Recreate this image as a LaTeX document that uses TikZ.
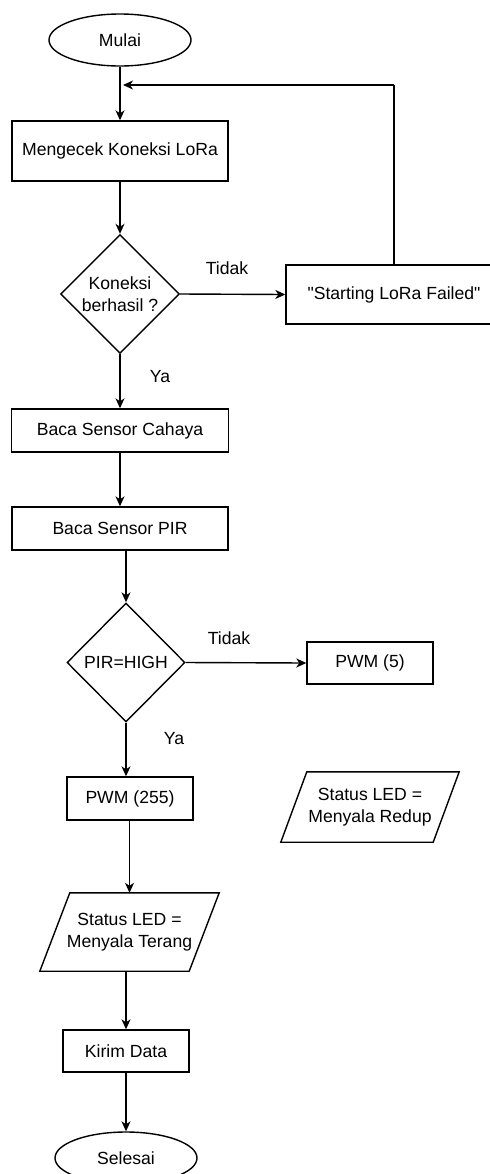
\documentclass[tikz,border=0pt]{standalone}
\usepackage{fontspec}
\setmainfont{Liberation Sans}
\usetikzlibrary{shapes.geometric,arrows.meta,calc}
\newcommand{\sq}{\XeTeXglyph\XeTeXcharglyph"22\relax}
\begin{document}
\begin{tikzpicture}[x=1bp,y=-1bp,
  every node/.style={font=\fontsize{17.6bp}{21.7bp}\selectfont, inner sep=0pt, align=center},
  ln/.style={line width=1.4bp, draw=black},
  arr/.style={ln, -{Stealth[length=10bp,width=9bp,inset=3bp]}},
  proc/.style={draw, line width=1.4bp, rectangle},
  term/.style={draw, line width=1.4bp, ellipse, minimum width=142bp, minimum height=52bp},
  dec/.style={draw, line width=1.4bp, diamond, minimum width=119bp, minimum height=119bp},
  io/.style={rectangle},
  lbl/.style={}
]
\path[fill=white,use as bounding box] (0,0) rectangle (490,1174);

\node[term] (start) at (120,40) {Mulai};
\node[proc, minimum width=216bp, minimum height=60bp] (check) at (120,151) {Mengecek Koneksi LoRa};
\node[dec] (dec1) at (120,294) {Koneksi\\berhasil ?};
\node[proc, minimum width=216bp, minimum height=59bp] (fail) at (394,294.5) {\sq Starting LoRa Failed\sq};
\node[proc, minimum width=217bp, minimum height=43bp] (cahaya) at (120,430.5) {Baca Sensor Cahaya};
\node[proc, minimum width=216bp, minimum height=43bp] (pir) at (120,528.5) {Baca Sensor PIR};
\node[dec, minimum width=118bp] (dec2) at (126,662.5) {PIR=HIGH};
\node[proc, minimum width=126bp, minimum height=42bp] (pwm5) at (370,663) {PWM (5)};
\node[proc, minimum width=126bp, minimum height=43bp] (pwm255) at (130,798.5) {PWM (255)};
\node[io, minimum width=152bp, minimum height=70bp] (redup) at (370,807) {Status LED =\\Menyala Redup};
\draw[ln] ($(redup.north west)+(13,0)$) -- ($(redup.north east)+(13,0)$) -- ($(redup.south east)+(-13,0)$) -- ($(redup.south west)+(-13,0)$) -- cycle;
\node[io, minimum width=149bp, minimum height=78bp] (terang) at (129.5,932) {Status LED =\\Menyala Terang};
\draw[ln] ($(terang.north west)+(15,0)$) -- ($(terang.north east)+(15,0)$) -- ($(terang.south east)+(-15,0)$) -- ($(terang.south west)+(-15,0)$) -- cycle;
\node[proc, minimum width=126bp, minimum height=42bp] (kirim) at (126,1051) {Kirim Data};
\node[term] (end) at (126,1158) {Selesai};

\coordinate (loopin) at (123,85);

\draw[arr] (start) -- (check);
\draw[arr] (check) -- (dec1);
\draw[arr] (dec1.east) -- (fail.west);
\draw[ln] (fail.north) -- (fail.north |- loopin);
\draw[arr] (fail.north |- loopin) -- (loopin);
\draw[arr] (dec1.south) -- (cahaya.north);
\draw[arr] (cahaya) -- (pir);
\draw[arr] (pir.south -| dec2.north) -- (dec2.north);
\draw[arr] (dec2.east) -- (pwm5.west);
\draw[arr] (dec2.south) -- (dec2.south |- pwm255.north);
\draw[arr] (pwm255.south -| terang.north) -- (terang.north);
\draw[arr] (terang.south -| kirim.north) -- (kirim.north);
\draw[arr] (kirim.south) -- (end.north);

\node[lbl] (t1) at (227,268) {Tidak};
\node[lbl] (y1) at (160,377) {Ya};
\node[lbl] (t2) at (229,638) {Tidak};
\node[lbl] (y2) at (174,739) {Ya};
\end{tikzpicture}
\end{document}
